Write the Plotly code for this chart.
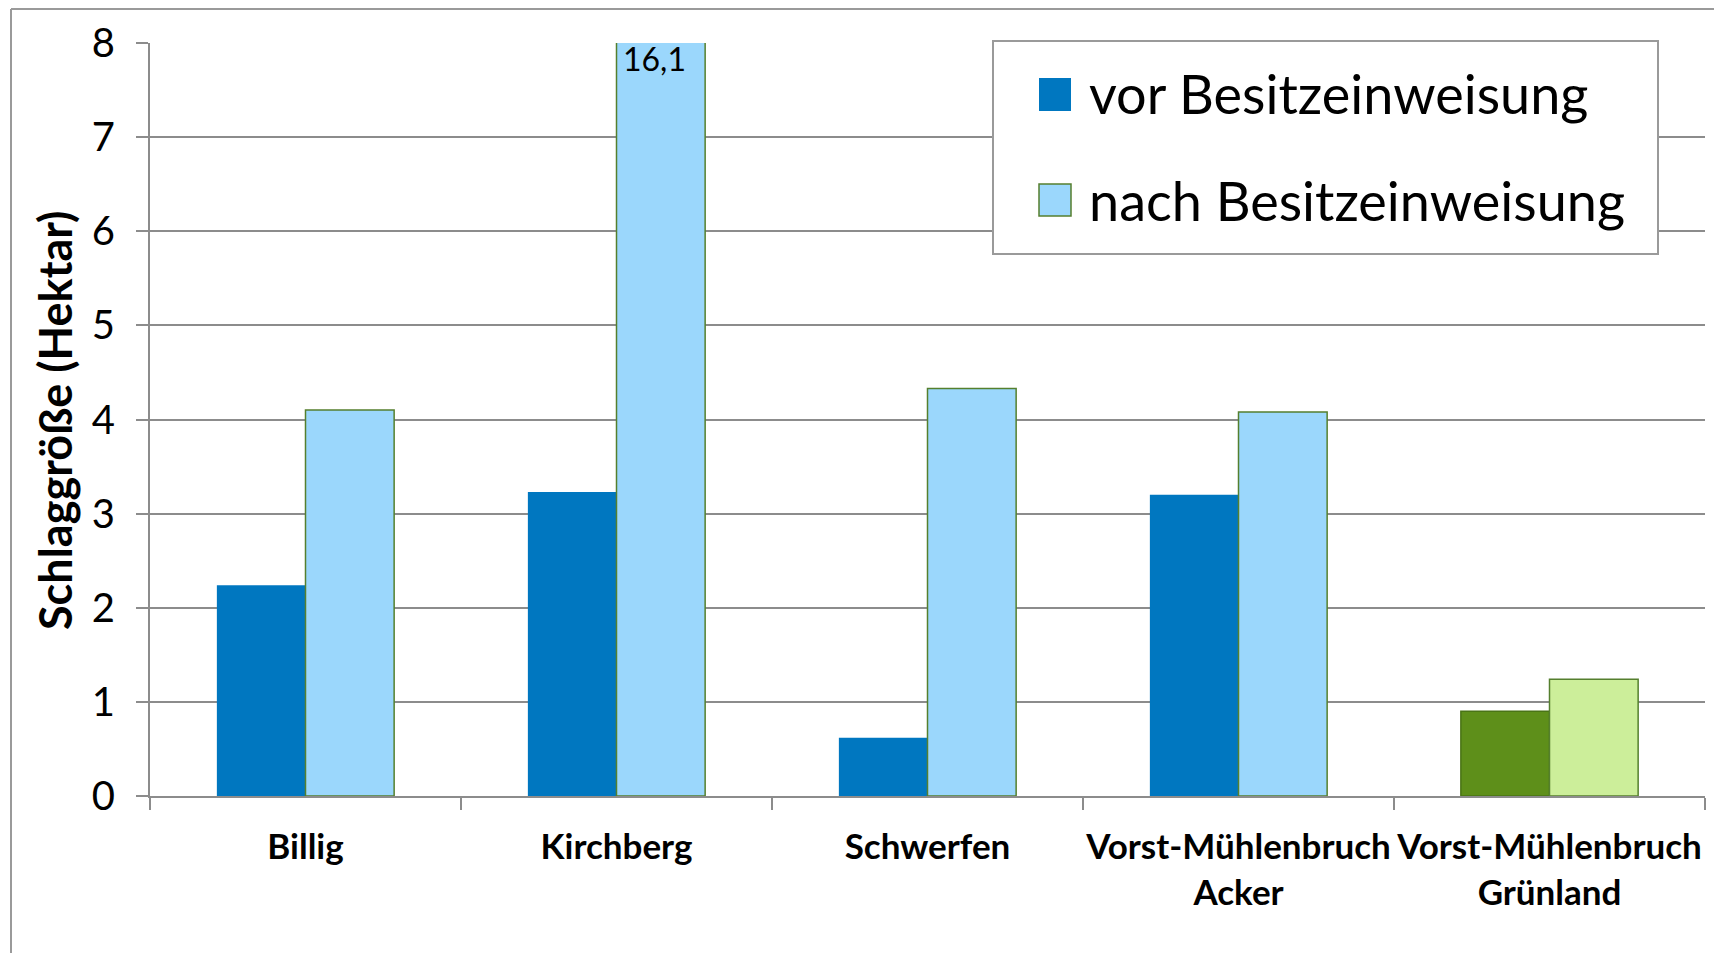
import plotly.graph_objects as go

# Schlaggröße je Verfahren (Hektar)
orte = ["Billig", "Kirchberg", "Schwerfen", "Vorst-Mühlenbruch<br>Acker", "Vorst-Mühlenbruch<br>Grünland"]
vor = [2.24, 3.23, 0.62, 3.20, 0.90]
nach = [4.10, 16.1, 4.33, 4.08, 1.24]
y_ticks = [0, 1, 2, 3, 4, 5, 6, 7, 8]

vor_farben = ["#0077C0", "#0077C0", "#0077C0", "#0077C0", "#5E8F1A"]
nach_farben = ["#9BD7FC", "#9BD7FC", "#9BD7FC", "#9BD7FC", "#CCEE9A"]

FONT = "Lato, Carlito, 'Open Sans', sans-serif"
PAGE = 8  # body margin of the html page
W, H = 1722 - PAGE, 957 - PAGE
L, R, T, B = 142, 17, 35, 161


def fx(x):
    # page pixel -> paper coordinate
    return (x - PAGE - L) / (W - L - R)


def fy(y):
    return 1 - (y - PAGE - T) / (H - T - B)


fig = go.Figure()
fig.add_trace(go.Bar(
    x=orte, y=vor, name="vor Besitzeinweisung",
    marker=dict(color=vor_farben, line=dict(color=["rgba(0,0,0,0)"] * 4 + ["#4A7416"], width=1.5)),
    showlegend=False,
))
fig.add_trace(go.Bar(
    x=orte, y=nach, name="nach Besitzeinweisung",
    marker=dict(color=nach_farben, line=dict(color="#557F2E", width=1.5)),
    showlegend=False,
))

# Wert des abgeschnittenen Balkens
fig.add_annotation(
    x=orte[1], y=8, yanchor="top", xshift=38, yshift=6,
    text=f"{nach[1]:.1f}".replace(".", ","), showarrow=False,
    font=dict(family=FONT, size=32, color="#000"),
)

# Achsentitel
fig.add_annotation(
    x=fx(55), y=fy(421), xref="paper", yref="paper", xanchor="center", yanchor="middle",
    textangle=-90, text="<b>Schlaggröße (Hektar)</b>", showarrow=False,
    font=dict(family=FONT, size=45, color="#000"),
)

# Legende von Hand (große Symbole)
shapes = [
    dict(type="line", xref="paper", yref="paper", x0=fx(11), x1=fx(1722), y0=fy(9), y1=fy(9),
         line=dict(color="#9A9A9A", width=2)),
    dict(type="line", xref="paper", yref="paper", x0=fx(11), x1=fx(11), y0=fy(9), y1=fy(953),
         line=dict(color="#9A9A9A", width=2)),
    dict(type="rect", xref="paper", yref="paper", x0=fx(993), x1=fx(1658), y0=fy(254), y1=fy(41),
         line=dict(color="#9A9A9A", width=2), fillcolor="white"),
    dict(type="rect", xref="paper", yref="paper", x0=fx(1039), x1=fx(1071), y0=fy(111), y1=fy(78),
         line=dict(width=0), fillcolor=vor_farben[0]),
    dict(type="rect", xref="paper", yref="paper", x0=fx(1039), x1=fx(1071), y0=fy(216), y1=fy(184),
         line=dict(color="#557F2E", width=1.5), fillcolor=nach_farben[0]),
]
for txt, yy in [("vor Besitzeinweisung", 94), ("nach Besitzeinweisung", 200)]:
    fig.add_annotation(
        x=fx(1087), y=fy(yy), xref="paper", yref="paper", xanchor="left", yanchor="middle",
        text=txt, showarrow=False, font=dict(family=FONT, size=54, color="#000"),
    )

fig.update_layout(
    width=W, height=H,
    margin=dict(l=L, r=R, t=T, b=B, autoexpand=False),
    paper_bgcolor="white", plot_bgcolor="white",
    barmode="group", bargap=0.43, bargroupgap=0,
    shapes=shapes,
    font=dict(family=FONT, color="#000"),
)
fig.update_xaxes(
    type="category", tickson="boundaries", ticks="outside", ticklen=12, tickwidth=2,
    tickcolor="#8C8C8C", showline=True, linecolor="#8C8C8C", linewidth=2,
    showgrid=False, ticklabelstandoff=19, tickangle=0, automargin=False,
    tickfont=dict(family=FONT, size=35, color="#000", weight="bold"),
)
fig.update_yaxes(
    range=[0, 8], tickvals=y_ticks, ticks="outside", ticklen=12, tickwidth=2,
    tickcolor="#8C8C8C", showline=True, linecolor="#8C8C8C", linewidth=2,
    showgrid=True, gridcolor="#8C8C8C", gridwidth=2, zeroline=False, automargin=False,
    ticklabelstandoff=13, tickfont=dict(family=FONT, size=40, color="#000"),
)

fig.write_html("out.html")
